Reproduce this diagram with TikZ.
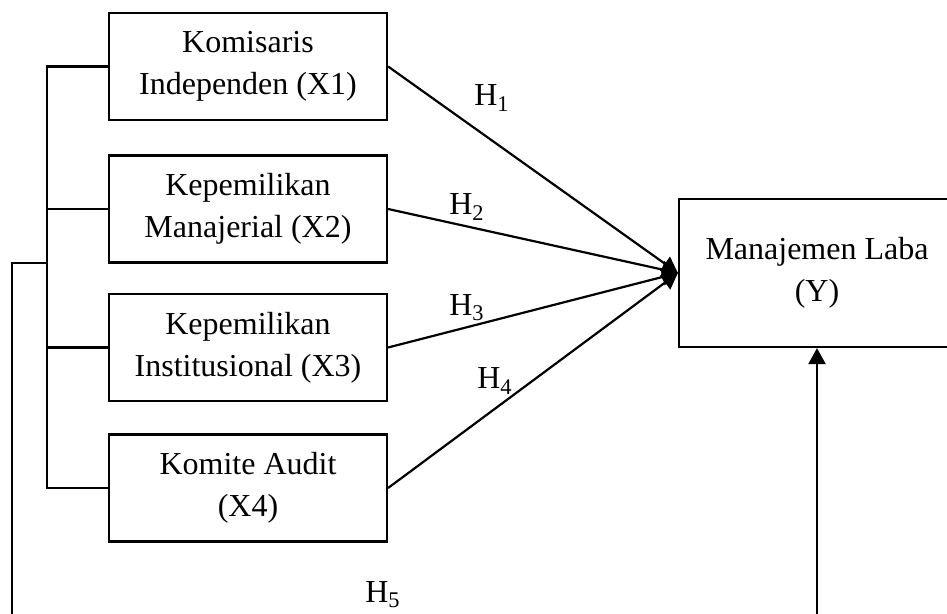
\documentclass[tikz,border=0pt]{standalone}
\usepackage{fontspec}
\setmainfont{Liberation Serif}
\usetikzlibrary{arrows.meta}

\begin{document}
\begin{tikzpicture}[
  x=0.5pt,y=-0.5pt,line width=1.1pt,
  font=\fontsize{16}{21}\selectfont,>={Triangle[length=8pt,width=8.5pt]},
  var/.style={draw,align=center,minimum width=139pt,minimum height=53.5pt,inner sep=0pt},
  dep/.style={draw,align=center,minimum width=138pt,minimum height=74pt,inner sep=0pt}
]
\useasboundingbox (0,0) rectangle (947,614);
\node[var] (x1) at (248,66.5) {Komisaris\\Independen (X1)};
\node[var] (x2) at (248,209) {Kepemilikan\\Manajerial (X2)};
\node[var] (x3) at (248,347.5) {Kepemilikan\\Institusional (X3)};
\node[var] (x4) at (248,488) {Komite Audit\\(X4)};
\node[dep] (y) at (817,273) {Manajemen Laba\\(Y)};
% hypothesis labels
\node (h1) at (492,98) {H\textsubscript{1}};
\node (h2) at (467,207) {H\textsubscript{2}};
\node (h3) at (467,308) {H\textsubscript{3}};
\node (h4) at (495,381) {H\textsubscript{4}};
\node (h5) at (383,595) {H\textsubscript{5}};
\draw[->] (x1.east) -- (y.west);
\draw[->] (x2.east) -- (y.west);
\draw[->] (x3.east) -- (y.west);
\draw[->] (x4.east) -- (y.west);
% bracket joining X1..X4
\coordinate (bt) at (47,66.5);
\coordinate (bb) at (47,488);
\coordinate (hub) at (47,263);
\coordinate (lb) at (12,620);
\coordinate (rb) at (817,620);
\draw (x1.west) -- (bt) -- (bb) -- (x4.west);
\draw (x2.west) -- (x2.west -| bt);
\draw (x3.west) -- (x3.west -| bt);
\draw (hub) -| (lb);
\draw[->] (rb) -- (y.south);
\end{tikzpicture}
\end{document}
